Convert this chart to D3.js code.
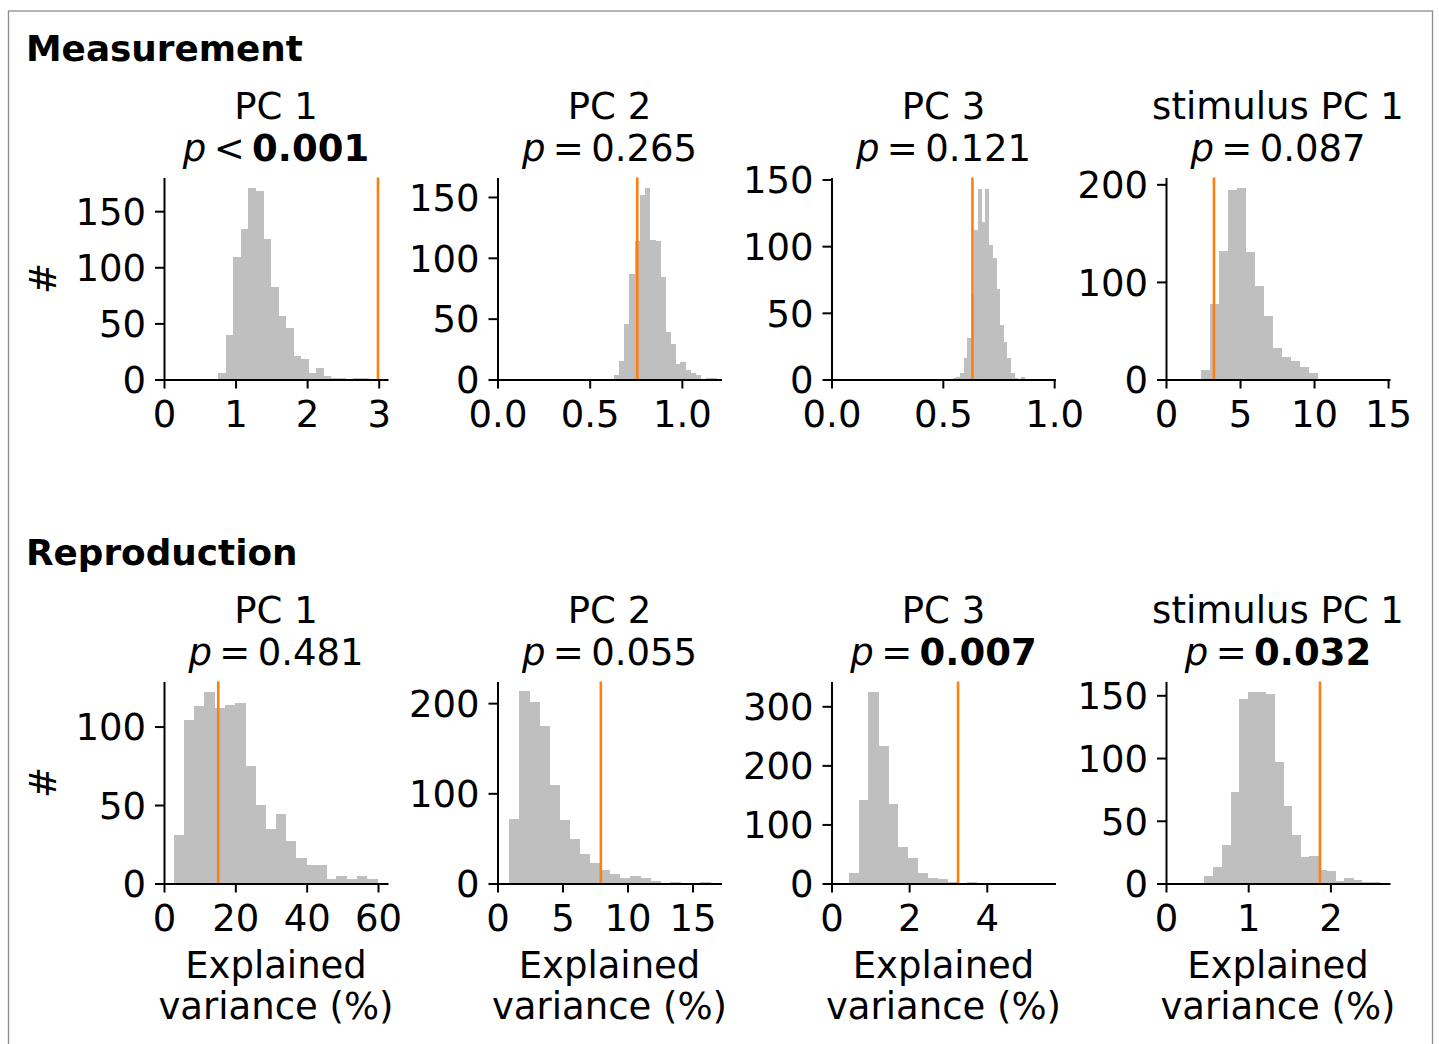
<!DOCTYPE html>
<html>
<head>
<meta charset="utf-8">
<script src="https://cdn.jsdelivr.net/npm/d3@7"></script>
<style>
  html, body { margin: 0; padding: 0; background: #fff; }
  svg { display: block; }
  text { font-family: "DejaVu Sans", sans-serif; fill: #000; }
</style>
</head>
<body>
<div id="chart"></div>
<script>
// Permutation-test histograms: null distributions of explained variance,
// with the observed value marked by a vertical line.

const rowNames = ["Measurement", "Reproduction"];
const panelTitles = ["PC 1", "PC 2", "PC 3", "stimulus PC 1"];

// p-value annotation per panel (row, column)
const pRelations = [["<", "=", "=", "="], ["=", "=", "=", "="]];
const pValues = [["0.001", "0.265", "0.121", "0.087"], ["0.481", "0.055", "0.007", "0.032"]];
const pBold = [[true, false, false, false], [false, false, true, true]];

// histogram bins: left edge of first bin and bin width (explained variance, %)
const binStarts = [[0.759, 0.633, 0.5447, 2.36], [2.8, 0.87, 0.445, 0.466]];
const binWidths = [[0.1048, 0.02766, 0.01617, 0.603], [2.846, 0.776, 0.253, 0.1065]];

// counts per bin
const measPC1 = [6, 40, 109, 134, 171, 168, 125, 82, 57, 46, 21, 18, 6, 10, 3, 1, 1, 0, 1, 1];
const measPC2 = [4, 15, 46, 87, 114, 152, 157, 115, 114, 84, 39, 29, 13, 14, 8, 5, 4, 0, 1, 1];
const measPC3 = [1, 2, 5, 16, 31, 64, 112, 143, 118, 143, 101, 91, 68, 41, 28, 16, 5, 1, 0, 2];
const measStim = [10, 77, 132, 194, 196, 131, 96, 65, 32, 23, 19, 13, 7, 1];
const reprPC1 = [31, 104, 113, 122, 112, 114, 115, 75, 50, 35, 44, 27, 16, 12, 12, 3, 5, 3, 5, 3];
const reprPC2 = [71, 213, 201, 175, 109, 70, 49, 33, 23, 15, 10, 6, 8, 6, 3, 1, 2, 1, 1, 2];
const reprPC3 = [17, 141, 325, 233, 135, 62, 43, 17, 9, 7, 2, 0, 2];
const reprStim = [6, 13, 31, 73, 147, 153, 153, 151, 97, 62, 39, 21, 22, 11, 10, 2, 4, 3, 1, 1];
const countsTable = [[measPC1, measPC2, measPC3, measStim], [reprPC1, reprPC2, reprPC3, reprStim]];

// observed explained variance (%)
const observed = [[2.99, 0.758, 0.633, 3.24], [15.2, 7.95, 3.26, 1.873]];

// axis limits and ticks
const xMax = [[3.13, 1.215, 1.006, 15.13], [62.8, 17.23, 5.77, 2.725]];
const yMax = [[180, 166, 151.5, 207], [128.7, 224, 342, 161]];
const xTicks = [[[0, 1, 2, 3], [0, 0.5, 1], [0, 0.5, 1], [0, 5, 10, 15]],
                [[0, 20, 40, 60], [0, 5, 10, 15], [0, 2, 4], [0, 1, 2]]];
const xTickFormats = [["d", ".1f", ".1f", "d"], ["d", "d", "d", "d"]];
const yTicks = [[[0, 50, 100, 150], [0, 50, 100, 150], [0, 50, 100, 150], [0, 100, 200]],
                [[0, 50, 100], [0, 100, 200], [0, 100, 200, 300], [0, 50, 100, 150]]];

// layout
const W = 1439, H = 1044;
const colLeft = [164, 497.5, 831.5, 1166];
const plotW = 224, plotH = 202;
const rowTop = [177.5, 681.5];
const FS = 37;
const barColor = "#bfbfbf";
const lineColor = "#ff7f0e";

const svg = d3.select("#chart").append("svg")
  .attr("width", W).attr("height", H);

svg.append("rect")
  .attr("x", 8.5).attr("y", 11).attr("width", 1424).attr("height", 1050)
  .attr("fill", "none").attr("stroke", "#8c8c8c").attr("stroke-width", 1.3);

rowNames.forEach((name, r) => {
  svg.append("text")
    .attr("x", 26).attr("y", r === 0 ? 61 : 565)
    .attr("font-size", 35.8).attr("font-weight", "bold")
    .text(name);

  panelTitles.forEach((title, c) => {
    const x0 = colLeft[c], y0 = rowTop[r];
    const g = svg.append("g").attr("transform", `translate(${x0},${y0})`);
    const x = d3.scaleLinear().domain([0, xMax[r][c]]).range([0, plotW]);
    const y = d3.scaleLinear().domain([0, yMax[r][c]]).range([plotH, 0]);

    const counts = countsTable[r][c];
    const bins = counts.map((n, i) => ({
      x0: binStarts[r][c] + i * binWidths[r][c],
      x1: binStarts[r][c] + (i + 1) * binWidths[r][c],
      n
    }));

    g.selectAll("rect.bar").data(bins).enter().append("rect")
      .attr("class", "bar")
      .attr("x", d => x(d.x0))
      .attr("width", d => x(d.x1) - x(d.x0) + 0.6)
      .attr("y", d => y(d.n))
      .attr("height", d => y(0) - y(d.n))
      .attr("fill", barColor)
      .attr("shape-rendering", "crispEdges");

    g.append("line")
      .attr("x1", x(observed[r][c])).attr("x2", x(observed[r][c]))
      .attr("y1", 0).attr("y2", plotH)
      .attr("stroke", lineColor).attr("stroke-width", 2.6);

    const xAxis = d3.axisBottom(x).tickValues(xTicks[r][c])
      .tickFormat(d3.format(xTickFormats[r][c]))
      .tickSize(9).tickSizeOuter(0).tickPadding(9);
    const yAxis = d3.axisLeft(y).tickValues(yTicks[r][c])
      .tickFormat(d3.format("d"))
      .tickSize(9).tickSizeOuter(0).tickPadding(9);

    const gx = g.append("g").attr("transform", `translate(0,${plotH})`).call(xAxis);
    const gy = g.append("g").call(yAxis);
    [gx, gy].forEach(a => {
      a.selectAll("path.domain").attr("stroke", "#000").attr("stroke-width", 2);
      a.selectAll(".tick line").attr("stroke", "#000").attr("stroke-width", 2);
      a.selectAll(".tick text").attr("font-size", FS)
        .attr("font-family", "DejaVu Sans").attr("fill", "#000");
    });
    gx.selectAll(".tick text").attr("dy", "0.8em");
    gy.selectAll(".tick text").attr("dy", "0.36em");

    // title: panel name and p-value
    const cx = x0 + plotW / 2;
    const titleBase = r === 0 ? 119 : 623;
    svg.append("text").attr("x", cx).attr("y", titleBase)
      .attr("text-anchor", "middle").attr("font-size", FS).text(title);
    const pt = svg.append("text").attr("x", cx).attr("y", titleBase + 42)
      .attr("text-anchor", "middle").attr("font-size", FS);
    pt.append("tspan").attr("font-style", "italic").text("p");
    pt.append("tspan").text(pRelations[r][c] === "<" ? "\u2009<\u2009" : "\u2009=\u2009");
    pt.append("tspan").attr("font-weight", pBold[r][c] ? "bold" : "normal")
      .text(pValues[r][c]);

    if (c === 0) {
      svg.append("text")
        .attr("transform", `translate(56,${y0 + plotH / 2}) rotate(-90)`)
        .attr("text-anchor", "middle").attr("font-size", FS).text("#");
    }
    if (r === 1) {
      svg.append("text").attr("x", cx).attr("y", 978)
        .attr("text-anchor", "middle").attr("font-size", FS).text("Explained");
      svg.append("text").attr("x", cx).attr("y", 1019)
        .attr("text-anchor", "middle").attr("font-size", FS).text("variance (%)");
    }
  });
});
</script>
</body>
</html>
